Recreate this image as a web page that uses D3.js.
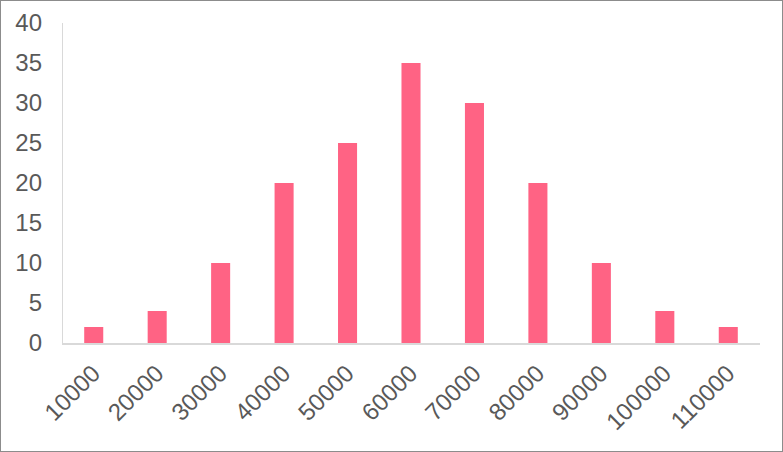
<!DOCTYPE html>
<html>
<head>
<meta charset="utf-8">
<script src="https://cdn.jsdelivr.net/npm/d3@7"></script>
<style>
  body { margin: 0; background: #fff; }
  text { font-family: "Liberation Sans", Arial, sans-serif; }
</style>
</head>
<body>
<svg id="chart"></svg>
<script>
var width = 783, height = 452
var margin = {top: 23, right: 23, bottom: 109, left: 62}

// data
var categories = ["10000", "20000", "30000", "40000", "50000", "60000", "70000", "80000", "90000", "100000", "110000"]
var counts = [2, 4, 10, 20, 25, 35, 30, 20, 10, 4, 2]
var yTicks = [0, 5, 10, 15, 20, 25, 30, 35, 40]

var svg = d3.select("#chart")
    .attr("width", width)
    .attr("height", height)

// outer border
svg.append("rect")
    .attr("x", 0.5).attr("y", 0.5)
    .attr("width", width - 1).attr("height", height - 1)
    .attr("fill", "#fff")
    .attr("stroke", "#8c8c8c")

var g = svg.append("g")
    .attr("transform", "translate(" + margin.left + "," + margin.top + ")")

var w = width - margin.left - margin.right,
    h = height - margin.top - margin.bottom

var x = d3.scaleBand().domain(categories).range([0, w]).paddingInner(0.7).paddingOuter(0.35)
var y = d3.scaleLinear().domain([0, 40]).range([h, 0])

// y axis line
g.append("line")
    .attr("x1", 0.5).attr("x2", 0.5)
    .attr("y1", 0).attr("y2", h)
    .attr("stroke", "#d9d9d9")

// y labels
g.selectAll(".ylab")
    .data(yTicks)
    .enter()
    .append("text")
    .attr("x", -20)
    .attr("y", function(d) { return y(d) })
    .attr("dy", "0.35em")
    .attr("text-anchor", "end")
    .attr("fill", "#595959")
    .style("font-size", "24px")
    .text(function(d) { return d })

// bars
g.selectAll(".bar")
    .data(counts)
    .enter()
    .append("rect")
    .attr("x", function(d, i) { return x(categories[i]) })
    .attr("y", function(d) { return y(d) })
    .attr("width", x.bandwidth())
    .attr("height", function(d) { return h - y(d) })
    .attr("fill", "#ff6384")

// x axis line
g.append("line")
    .attr("x1", 0).attr("x2", w)
    .attr("y1", h + 1).attr("y2", h + 1)
    .attr("stroke", "#d9d9d9")
    .attr("stroke-width", 2)

// x labels, rotated
g.selectAll(".xlab")
    .data(categories)
    .enter()
    .append("text")
    .attr("transform", function(d) {
        var cx = x(d) + x.bandwidth() / 2 + 2
        return "translate(" + cx + "," + (h + 26) + ") rotate(-45)"
    })
    .attr("text-anchor", "end")
    .attr("dy", "0.35em")
    .attr("fill", "#595959")
    .style("font-size", "24px")
    .text(function(d) { return d })
</script>
</body>
</html>
